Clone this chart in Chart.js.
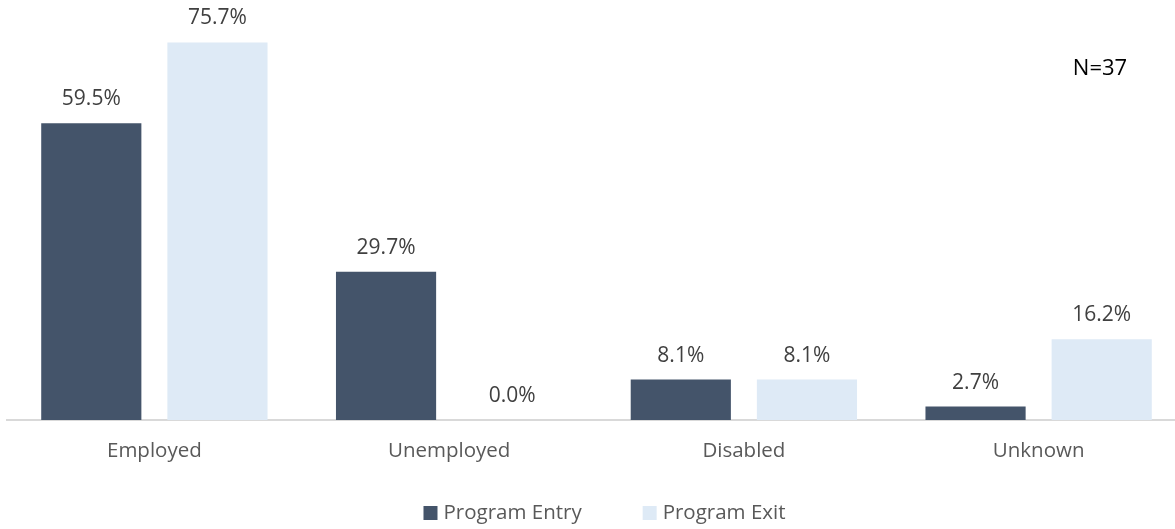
<!DOCTYPE html>
<html>
<head>
<meta charset="utf-8">
<script src="https://cdn.jsdelivr.net/npm/chart.js@4.4.1/dist/chart.umd.min.js"></script>
<style>
  html, body { margin: 0; padding: 0; background: #ffffff; }
  #wrap { width: 1175px; height: 529px; overflow: hidden; position: relative; }
  #holder { position: absolute; left: 0; top: 0; width: 1203px; height: 529px; }
</style>
</head>
<body>
<div id="wrap"><div id="holder"><canvas id="c"></canvas></div></div>
<script>
const categories = ["Employed", "Unemployed", "Disabled", "Unknown"];
const seriesNames = ["Program Entry", "Program Exit"];
const programEntry = [59.5, 29.7, 8.1, 2.7];
const programExit = [75.7, 0.0, 8.1, 16.2];
const seriesColors = ['#44546a', '#deeaf6'];
const sampleNote = "N=37";

const FONT = "'Open Sans', 'Noto Sans', sans-serif";

const valueLabels = {
  id: 'valueLabels',
  afterDatasetsDraw(chart) {
    const ctx = chart.ctx;
    ctx.save();
    ctx.font = "21px " + FONT;
    ctx.fillStyle = "#404040";
    ctx.textAlign = "center";
    ctx.textBaseline = "middle";
    chart.data.datasets.forEach((ds, di) => {
      const meta = chart.getDatasetMeta(di);
      meta.data.forEach((bar, i) => {
        ctx.fillText(ds.data[i].toFixed(1) + "%", bar.x, bar.y - 24);
      });
    });
    ctx.font = "22px " + FONT;
    ctx.fillStyle = "#000000";
    ctx.fillText(sampleNote, 1100, 69);
    ctx.restore();
  }
};

const bottomLegend = {
  id: 'bottomLegend',
  afterDraw(chart) {
    const ctx = chart.ctx;
    ctx.save();
    ctx.font = "20.5px " + FONT;
    ctx.textBaseline = "middle";
    ctx.textAlign = "left";
    const box = 14, boxGap = 6, itemGap = 61;
    const items = chart.data.datasets.map(ds => ({ text: ds.label, color: ds.backgroundColor, w: ctx.measureText(ds.label).width }));
    let total = 0;
    items.forEach((it, i) => { total += box + boxGap + it.w + (i < items.length - 1 ? itemGap : 0); });
    const cx = (chart.chartArea.left + chart.chartArea.right) / 2 + 8;
    const cy = 513;
    let x = cx - total / 2;
    items.forEach(it => {
      ctx.fillStyle = it.color;
      ctx.fillRect(x, cy - box / 2, box, box);
      x += box + boxGap;
      ctx.fillStyle = '#595959';
      ctx.fillText(it.text, x, cy);
      x += it.w + itemGap;
    });
    ctx.restore();
  }
};

new Chart(document.getElementById('c'), {
  type: 'bar',
  data: {
    labels: categories,
    datasets: [
      { label: seriesNames[0], data: programEntry, backgroundColor: seriesColors[0] },
      { label: seriesNames[1], data: programExit, backgroundColor: seriesColors[1] }
    ]
  },
  options: {
    responsive: true,
    maintainAspectRatio: false,
    animation: false,
    devicePixelRatio: 1,
    layout: { padding: { left: 7, right: 0, top: 21, bottom: 0 } },
    datasets: { bar: { categoryPercentage: 0.856, barPercentage: 0.794 } },
    plugins: {
      legend: { display: false },
      tooltip: { enabled: false }
    },
    scales: {
      x: {
        grid: { display: false, drawTicks: false },
        border: { display: true, color: '#d9d9d9', width: 2 },
        ticks: { font: { family: FONT, size: 20.5 }, color: '#595959', padding: 19 },
        afterFit(s) { s.height = 109; }
      },
      y: {
        position: 'right',
        min: 0, max: 80,
        display: true,
        grid: { display: false, drawTicks: false },
        border: { display: false },
        ticks: { display: false },
        afterFit(s) { s.width = 17; }
      }
    }
  },
  plugins: [valueLabels, bottomLegend]
});
</script>
</body>
</html>
